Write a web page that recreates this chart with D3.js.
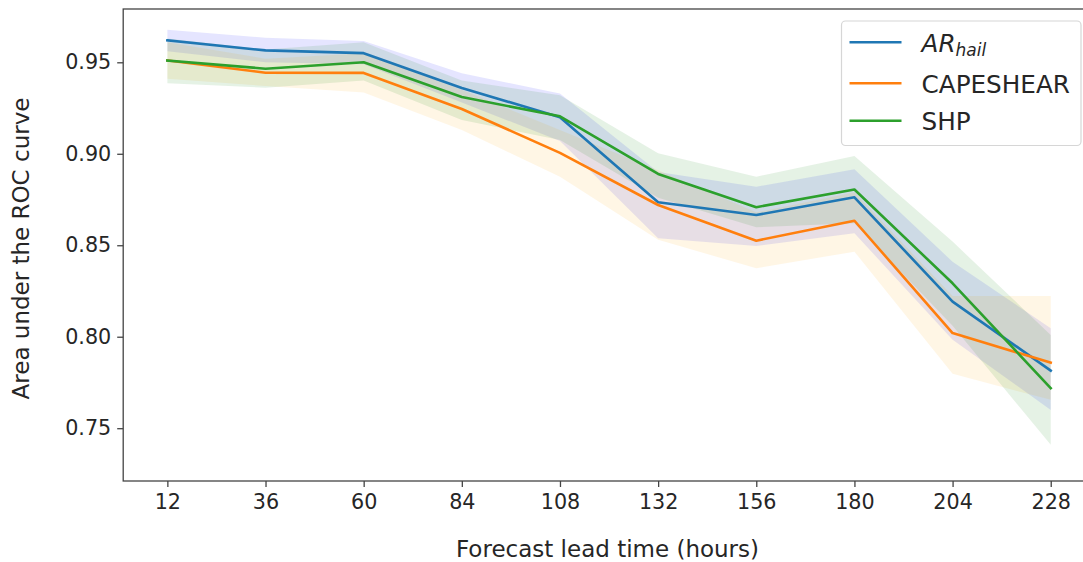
<!DOCTYPE html>
<html>
<head>
<meta charset="utf-8">
<script src="https://cdn.jsdelivr.net/npm/d3@7"></script>
<style>
  html, body { margin: 0; padding: 0; background: #fff; }
  svg { display: block; font-family: "DejaVu Sans", sans-serif; }
</style>
</head>
<body>
<svg id="chart" width="1083" height="562"></svg>
<script>
// ---- data ----
const leadTimes = [12, 36, 60, 84, 108, 132, 156, 180, 204, 228];
const yTicks = [0.75, 0.80, 0.85, 0.90, 0.95];

const arMean  = [0.962, 0.9565, 0.955, 0.936, 0.920, 0.8735, 0.8665, 0.8762, 0.8192, 0.7815];
const arUpper = [0.9678, 0.9634, 0.9616, 0.944, 0.933, 0.890, 0.882, 0.8915, 0.841, 0.8047];
const arLower = [0.956, 0.950, 0.949, 0.928, 0.907, 0.8538, 0.8496, 0.8566, 0.7983, 0.760];

const capeMean  = [0.951, 0.9443, 0.9442, 0.9245, 0.9005, 0.872, 0.8525, 0.8634, 0.802, 0.7858];
const capeUpper = [0.961, 0.952, 0.955, 0.935, 0.913, 0.891, 0.868, 0.879, 0.8223, 0.8223];
const capeLower = [0.941, 0.937, 0.9335, 0.913, 0.8875, 0.853, 0.8374, 0.8465, 0.7797, 0.7655];

const shpMean  = [0.951, 0.9465, 0.950, 0.931, 0.9205, 0.889, 0.8708, 0.8805, 0.8292, 0.7719];
const shpUpper = [0.963, 0.957, 0.961, 0.940, 0.932, 0.9003, 0.8875, 0.8988, 0.852, 0.801];
const shpLower = [0.9385, 0.9361, 0.940, 0.9185, 0.9075, 0.876, 0.8598, 0.862, 0.806, 0.7409];

const series = [
  { name: "AR", sub: "hail", mean: arMean, upper: arUpper, lower: arLower, line: "#1f77b4", fill: "#0000ff" },
  { name: "CAPESHEAR", mean: capeMean, upper: capeUpper, lower: capeLower, line: "#ff7f0e", fill: "#ffa500" },
  { name: "SHP", mean: shpMean, upper: shpUpper, lower: shpLower, line: "#2ca02c", fill: "#008000" }
];

// ---- layout ----
const svg = d3.select("#chart");
const pLeft = 123.2, pRight = 1094.9, pTop = 9, pBottom = 481;

const x = d3.scaleLinear().domain([1.2, 238.8]).range([pLeft, pRight]);
const y = d3.scaleLinear().domain([0.75, 0.95]).range([428.2, 62.3]);

svg.append("defs").append("clipPath").attr("id", "clip")
  .append("rect").attr("x", pLeft).attr("y", pTop).attr("width", pRight - pLeft).attr("height", pBottom - pTop);

const plot = svg.append("g").attr("clip-path", "url(#clip)");

// bands
series.forEach(s => {
  const area = d3.area()
    .x((d, i) => x(leadTimes[i]))
    .y0((d, i) => y(s.lower[i]))
    .y1((d, i) => y(s.upper[i]));
  plot.append("path").datum(s.mean).attr("d", area)
    .attr("fill", s.fill).attr("fill-opacity", 0.1).attr("stroke", "none");
});

// lines
series.forEach(s => {
  const line = d3.line().x((d, i) => x(leadTimes[i])).y(d => y(d));
  plot.append("path").datum(s.mean).attr("d", line)
    .attr("fill", "none").attr("stroke", s.line).attr("stroke-width", 2.6)
    .attr("stroke-linejoin", "round").attr("stroke-linecap", "square");
});

// axes
const xAxis = d3.axisBottom(x).tickValues(leadTimes).tickSize(6).tickPadding(6).tickFormat(d3.format("d"));
const gx = svg.append("g").attr("transform", `translate(0,${pBottom})`).call(xAxis);
const yAxis = d3.axisLeft(y).tickValues(yTicks).tickSize(6).tickPadding(6).tickFormat(d3.format(".2f"));
const gy = svg.append("g").attr("transform", `translate(${pLeft},0)`).call(yAxis);

[gx, gy].forEach(g => {
  g.select(".domain").remove();
  g.selectAll(".tick line").attr("stroke", "#444").attr("stroke-width", 1.3);
  g.selectAll(".tick text").attr("fill", "#262626").style("font-size", "20.7px")
    .style("font-family", "DejaVu Sans, sans-serif");
});
gx.selectAll(".tick text").attr("dy", "0.78em");

// spines
svg.append("rect").attr("x", pLeft).attr("y", pTop).attr("width", pRight - pLeft).attr("height", pBottom - pTop)
  .attr("fill", "none").attr("stroke", "#444").attr("stroke-width", 1.3);

// axis labels
svg.append("text").attr("x", 607.5).attr("y", 557).attr("text-anchor", "middle")
  .attr("fill", "#262626").style("font-size", "23px").text("Forecast lead time (hours)");
svg.append("text").attr("transform", "translate(29,248.5) rotate(-90)").attr("text-anchor", "middle")
  .attr("fill", "#262626").style("font-size", "23px").text("Area under the ROC curve");

// legend
const lg = svg.append("g");
lg.append("rect").attr("x", 841.5).attr("y", 21).attr("width", 239.5).attr("height", 124.5)
  .attr("rx", 4).attr("fill", "#fff").attr("fill-opacity", 0.8)
  .attr("stroke", "#d6d6d6").attr("stroke-width", 1.2);
const rowY = [42.3, 83.3, 120.7];
series.forEach((s, i) => {
  lg.append("line").attr("x1", 849.5).attr("x2", 901.5).attr("y1", rowY[i]).attr("y2", rowY[i])
    .attr("stroke", s.line).attr("stroke-width", 2.6);
  const t = lg.append("text").attr("x", 921.5).attr("y", rowY[i] + 9.5)
    .attr("fill", "#262626").style("font-size", "24.7px");
  if (s.sub) {
    t.append("tspan").style("font-style", "italic").text(s.name);
    t.append("tspan").style("font-style", "italic").style("font-size", "17px")
      .attr("dy", 4.5).text(s.sub);
  } else {
    t.text(s.name);
  }
});
</script>
</body>
</html>
